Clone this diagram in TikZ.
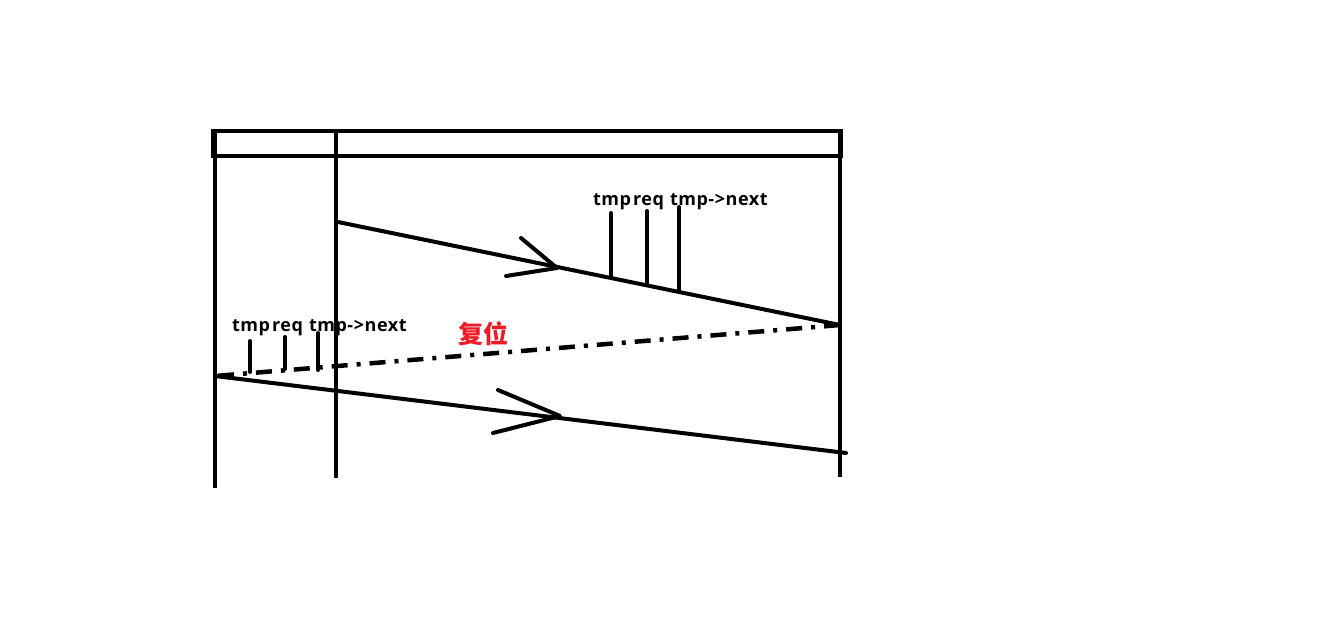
\documentclass[tikz,border=0pt]{standalone}
\usepackage{fontspec}
\setmainfont{Open Sans}[LetterSpace=3]
\newfontfamily\cjkfont{Noto Sans CJK SC}
\definecolor{mspred}{HTML}{ED1C24}
\begin{document}
\begin{tikzpicture}[x=1pt,y=-1pt,line width=4pt,
  lbl/.style={anchor=base west,inner sep=0pt,font=\fontsize{18}{18}\selectfont\bfseries},
  ticks/.style={line width=4pt,line cap=round},
  msg/.style={line width=4pt,line cap=round},
  barb/.style={line width=4pt,line cap=round,line join=round},
  resetline/.style={line width=4.5pt,dash pattern=on 16pt off 9pt on 4pt off 9pt}]
\useasboundingbox (0,0) rectangle (1320,636);
% header
\draw (213,131) rectangle (841,156);
\coordinate (Atop) at (215,131); \coordinate (Abot) at (215,488);
\coordinate (Btop) at (336,131); \coordinate (Bbot) at (336,478);
\coordinate (Ctop) at (840,131); \coordinate (Cbot) at (840,477);
\draw (Atop) -- (Abot);
\draw (Btop) -- (Bbot);
\draw (Ctop) -- (Cbot);
% top message
\coordinate (m1s) at (338,222); \coordinate (m1e) at (840,325);
\draw[msg] (m1s) -- (m1e);
\coordinate (m1tip) at (557,268);
\draw[barb] (521,238) -- (m1tip) -- (506,276);
% top labels & ticks
\node[lbl] (t1) at (591,206) {tmp};
\node[lbl] (r1) at (631,206) {req};
\node[lbl] (n1) at (668,206) {tmp->next};
\draw[ticks] (611,213) -- (611,277);
\draw[ticks] (647,211) -- (647,285);
\draw[ticks] (679,207) -- (679,292);
% reset line
\coordinate (m2e) at (215,376);
\draw[resetline] (m1e) -- (m2e);
\node[inner sep=0pt,text=mspred,font=\cjkfont\fontsize{25}{25}\selectfont\bfseries] (reset) at (483,334) {复位};
% left labels & ticks
\node[lbl] (t2) at (230,331) {tmp};
\node[lbl] (r2) at (270,331) {req};
\node[lbl] (n2) at (307,331) {tmp->next};
\draw[ticks] (250,341) -- (250,372);
\draw[ticks] (285,337) -- (285,369);
\draw[ticks] (318,333) -- (318,370);
% bottom message
\coordinate (m3e) at (846,453);
\draw[msg] (m2e) -- (m3e);
\coordinate (m3tip) at (560,416);
\draw[barb] (498,390) -- (m3tip) -- (493,433);
\end{tikzpicture}
\end{document}
